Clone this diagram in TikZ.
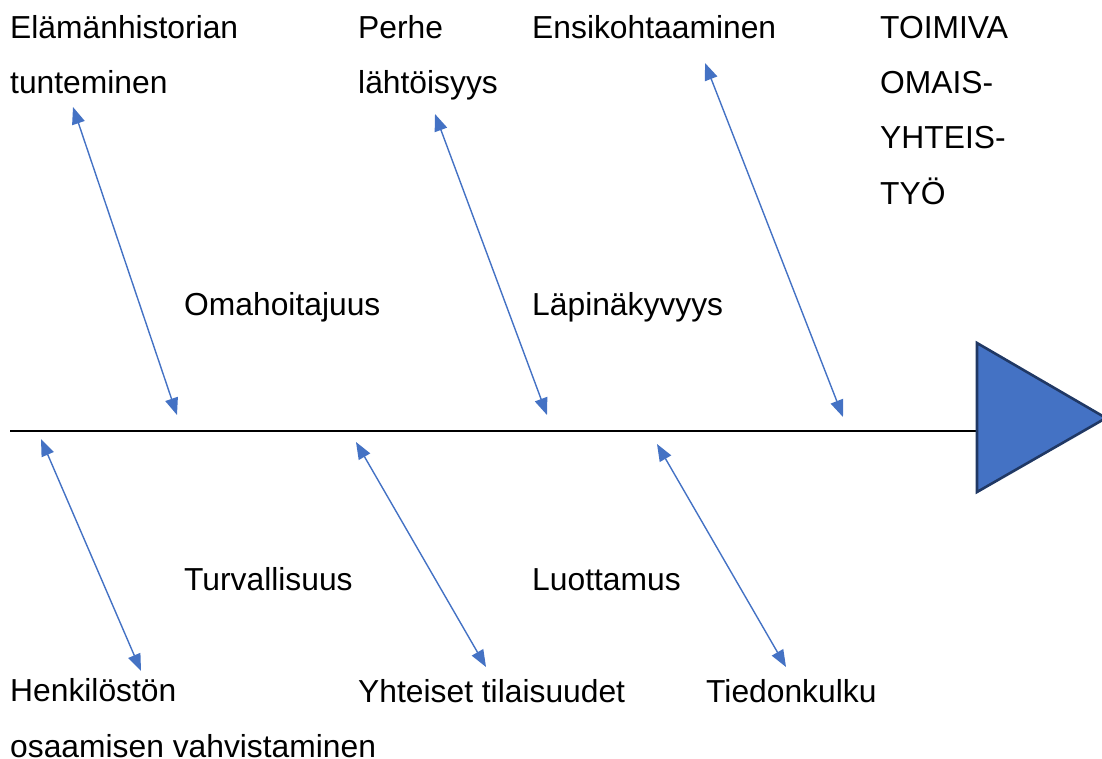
\documentclass[tikz,border=0pt]{standalone}
\usepackage{fontspec}
\setmainfont{Liberation Sans}
\usetikzlibrary{arrows.meta}
\definecolor{arrowblue}{HTML}{4472C4}
\definecolor{navy}{HTML}{203864}
\tikzset{
  lbl/.style={anchor=base west, inner sep=0pt, align=left,
    font=\fontsize{31.8}{55.4}\selectfont},
  link/.style={draw=arrowblue, line width=1.4pt,
    {Triangle[length=17pt,width=13pt]}-{Triangle[length=17pt,width=13pt]}},
  spine/.style={draw=black, line width=2.6pt},
  head/.style={fill=arrowblue, draw=navy, line width=2.6pt, line join=miter}
}
\begin{document}
\begin{tikzpicture}[x=1pt,y=-1pt]
\useasboundingbox (0,0) rectangle (1102,758);
% texts (anchored at the baseline of the last line)
\node[lbl] (t1) at (10,93.4) {Elämänhistorian\\tunteminen};
\node[lbl] (t2) at (358,93.4) {Perhe\\lähtöisyys};
\node[lbl] (t3) at (532,38) {Ensikohtaaminen};
\node[lbl] (t4) at (880,204.2) {TOIMIVA\\OMAIS-\\YHTEIS-\\TYÖ};
\node[lbl] (t5) at (184,315) {Omahoitajuus};
\node[lbl] (t6) at (532,315) {Läpinäkyvyys};
\node[lbl] (t7) at (184,590) {Turvallisuus};
\node[lbl] (t8) at (532,590) {Luottamus};
\node[lbl] (t9) at (10,757) {Henkilöstön\\osaamisen vahvistaminen};
\node[lbl] (t10) at (358,702) {Yhteiset tilaisuudet};
\node[lbl] (t11) at (706,702) {Tiedonkulku};
% spine and head
\coordinate (s0) at (10,431);
\coordinate (s1) at (977,431);
\draw[spine] (s0) -- (s1);
\coordinate (h1) at (977,343);
\coordinate (h2) at (1106,418);
\coordinate (h3) at (977,492);
\draw[head] (h1) -- (h2) -- (h3) -- cycle;
% arrows
\coordinate (a1t) at (73,107);  \coordinate (a1b) at (177,415);
\coordinate (a2t) at (435,114); \coordinate (a2b) at (547,415);
\coordinate (a3t) at (705,63);  \coordinate (a3b) at (843,417);
\coordinate (b1t) at (41,439);  \coordinate (b1b) at (141,671);
\coordinate (b2t) at (356,442); \coordinate (b2b) at (486,667);
\coordinate (b3t) at (657,444); \coordinate (b3b) at (786,667);
\draw[link] (a1t) -- (a1b);
\draw[link] (a2t) -- (a2b);
\draw[link] (a3t) -- (a3b);
\draw[link] (b1t) -- (b1b);
\draw[link] (b2t) -- (b2b);
\draw[link] (b3t) -- (b3b);
\end{tikzpicture}
\end{document}
